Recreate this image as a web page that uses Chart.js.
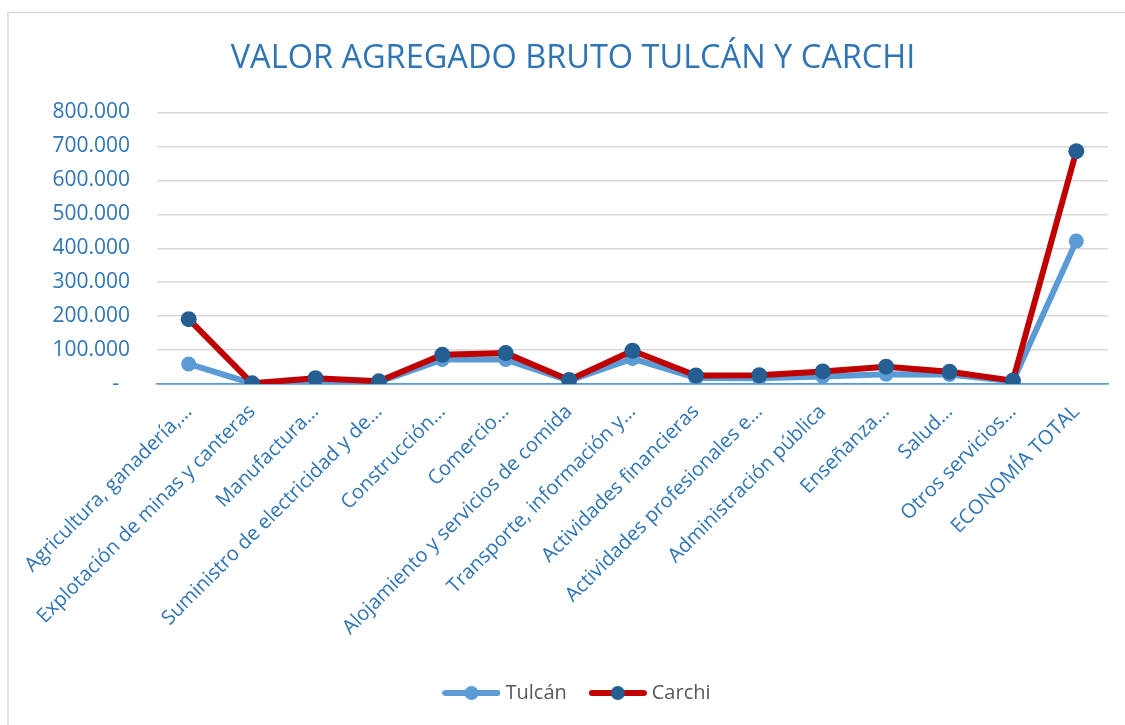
<!DOCTYPE html>
<html lang="es">
<head>
<meta charset="utf-8">
<title>Valor agregado bruto Tulcán y Carchi</title>
<script src="https://cdn.jsdelivr.net/npm/chart.js@4.4.1/dist/chart.umd.min.js"></script>
<style>
  html, body { margin: 0; padding: 0; background: #fff; }
  #wrap { position: relative; width: 1125px; height: 725px; }
</style>
</head>
<body>
<div id="wrap"><canvas id="vabChart" width="1125" height="725"></canvas></div>
<script>
// sectores (tal como aparecen recortados en el eje)
const categorias = [
  'Agricultura, ganadería,…',
  'Explotación de minas y canteras',
  'Manufactura…',
  'Suministro de electricidad y de…',
  'Construcción…',
  'Comercio…',
  'Alojamiento y servicios de comida',
  'Transporte, información y…',
  'Actividades financieras',
  'Actividades profesionales e…',
  'Administración pública',
  'Enseñanza…',
  'Salud…',
  'Otros servicios…',
  'ECONOMÍA TOTAL'
];

// miles de dólares
const tulcan = [59000, 1500, 10000, 6000, 72000, 72000, 10000, 75000, 18000, 17000, 22000, 29000, 28000, 8000, 421000];
const carchi = [191000, 2000, 17000, 8000, 86000, 91000, 12000, 98000, 25000, 26000, 37000, 51000, 36000, 10000, 686000];

// etiquetas del eje Y (formato contable, el cero como guion)
const etiquetasY = ['-  ', '100.000', '200.000', '300.000', '400.000', '500.000', '600.000', '700.000', '800.000'];

const AZUL_TXT = '#2f75b5';
const COL_TULCAN = '#5b9bd5';
const COL_CARCHI = '#c00000';
const PUNTO_CARCHI = '#255e91';

Chart.defaults.font.family = "'Open Sans', sans-serif";

// marcador de leyenda: línea con punto
function marcador(linea, punto) {
  const c = document.createElement('canvas');
  c.width = 58; c.height = 16;
  const g = c.getContext('2d');
  g.strokeStyle = linea; g.lineWidth = 6; g.lineCap = 'round';
  g.beginPath(); g.moveTo(3, 8); g.lineTo(55, 8); g.stroke();
  g.fillStyle = punto;
  g.beginPath(); g.arc(29, 8, 7, 0, Math.PI * 2); g.fill();
  return c;
}
const marcas = [marcador(COL_TULCAN, COL_TULCAN), marcador(COL_CARCHI, PUNTO_CARCHI)];

// marco gris del área del gráfico
const marco = {
  id: 'marco',
  beforeDraw(chart) {
    const ctx = chart.ctx;
    ctx.save();
    ctx.strokeStyle = '#d9d9d9';
    ctx.lineWidth = 1.5;
    ctx.strokeRect(8, 12.5, chart.width + 20, chart.height + 20);
    ctx.restore();
  }
};

// título y leyenda algo corridos a la derecha, como en el original
const desplazar = {
  id: 'desplazar',
  afterLayout(chart) {
    chart.titleBlock.left += 19; chart.titleBlock.right += 19;
    chart.legend.left += 25; chart.legend.right += 25;
  }
};

new Chart(document.getElementById('vabChart'), {
  type: 'line',
  data: {
    labels: categorias,
    datasets: [
      {
        label: 'Tulcán',
        data: tulcan,
        borderColor: COL_TULCAN,
        backgroundColor: COL_TULCAN,
        pointBackgroundColor: COL_TULCAN,
        borderWidth: 6,
        pointRadius: 7.5,
        pointBorderWidth: 0,
        borderJoinStyle: 'round',
        order: 1
      },
      {
        label: 'Carchi',
        data: carchi,
        borderColor: COL_CARCHI,
        backgroundColor: PUNTO_CARCHI,
        pointBackgroundColor: PUNTO_CARCHI,
        borderWidth: 6,
        pointRadius: 8,
        pointBorderWidth: 0,
        borderJoinStyle: 'round',
        order: 0
      }
    ]
  },
  options: {
    responsive: false,
    animation: false,
    devicePixelRatio: 1,
    layout: { padding: { top: 0, left: 0, right: 17, bottom: 12 } },
    plugins: {
      title: {
        display: true,
        text: 'VALOR AGREGADO BRUTO TULCÁN Y CARCHI',
        color: AZUL_TXT,
        font: { size: 32.5, weight: 'normal' },
        padding: { top: 39.5, bottom: 34 }
      },
      legend: {
        position: 'bottom',
        labels: {
          usePointStyle: true,
          pointStyleWidth: 48,
          padding: 27,
          color: '#595959',
          font: { size: 20 },
          sort: (a, b) => a.datasetIndex - b.datasetIndex,
          generateLabels(chart) {
            const items = Chart.defaults.plugins.legend.labels.generateLabels(chart);
            items.forEach(it => { it.pointStyle = marcas[it.datasetIndex]; it.fontColor = '#595959'; });
            return items;
          }
        }
      },
      tooltip: { enabled: false }
    },
    scales: {
      x: {
        offset: true,
        ticks: {
          color: AZUL_TXT,
          font: { size: 20 },
          minRotation: 45,
          maxRotation: 45,
          autoSkip: false,
          padding: 16
        },
        grid: { display: false, drawTicks: false },
        border: { color: COL_TULCAN, width: 1.5 },
        afterFit: s => { s.height = 272; }
      },
      y: {
        min: 0,
        max: 800000,
        ticks: {
          stepSize: 100000,
          color: AZUL_TXT,
          font: { size: 21 },
          padding: 27,
          callback: (v, i) => etiquetasY[i]
        },
        grid: {
          color: c => c.tick && c.tick.value === 0 ? COL_TULCAN : '#d9d9d9',
          lineWidth: 1.5,
          drawTicks: false
        },
        border: { display: false },
        afterFit: s => { s.width = 157; }
      }
    }
  },
  plugins: [marco, desplazar]
});
</script>
</body>
</html>
